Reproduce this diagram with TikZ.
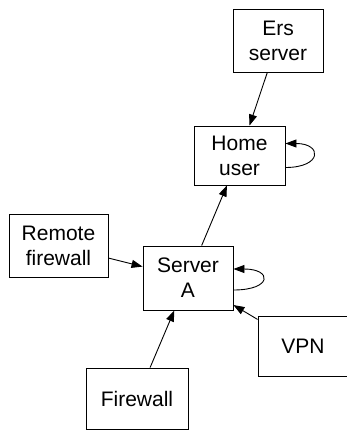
\documentclass[tikz,border=0pt]{standalone}
\usepackage{fontspec}
\setmainfont{Liberation Sans}
\usetikzlibrary{arrows.meta}
\begin{document}
\begin{tikzpicture}[x=1pt,y=-1pt,
		box/.style={draw,line width=0.9pt,align=center,inner sep=0pt,
			font=\fontsize{21}{25}\selectfont},
		edge/.style={line width=0.9pt,-{Triangle[length=11pt,width=8pt]}}]
		\useasboundingbox (0,0) rectangle (347,432);
		
		%nodi
		\node[box,minimum width=90,minimum height=63] (ers) at (278,40.5) {Ers\\server};
		\node[box,minimum width=91,minimum height=59] (home) at (239.5,155.5) {Home\\user};
		\node[box,minimum width=99,minimum height=63] (remote) at (58.5,245.5) {Remote\\firewall};
		\node[box,minimum width=90,minimum height=64] (srva) at (188,278) {Server\\A};
		\node[box,minimum width=90,minimum height=60] (vpn) at (303,346.5) {VPN};
		\node[box,minimum width=102,minimum height=61] (fw) at (137,398.5) {Firewall};
		
		%archi
		\draw[edge] (ers) -- (home);
		\draw[edge] (srva) -- (home);
		\draw[edge] (remote) -- (srva);
		\draw[edge] (vpn) -- (srva);
		\draw[edge] (fw) -- (srva);
		
		%anelli
		\draw[edge] ([yshift=-12pt]home.east) .. controls +(37,0) and +(37,0) .. ([yshift=12pt]home.east);
		\draw[edge] ([yshift=-12pt]srva.east) .. controls +(39,0) and +(39,0) .. ([yshift=9pt]srva.east);
	\end{tikzpicture}
\end{document}
